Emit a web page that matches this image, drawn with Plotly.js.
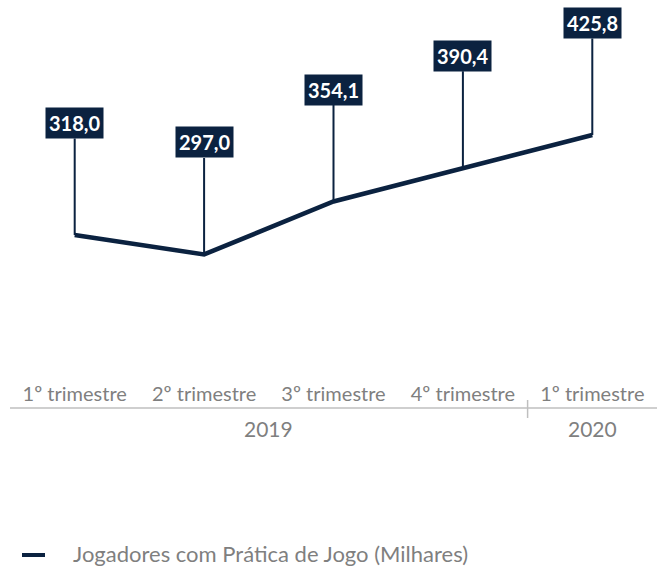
<!DOCTYPE html>
<html>
<head>
<meta charset="utf-8">
<script src="https://cdn.plot.ly/plotly-3.0.1.min.js"></script>
<style>html,body{margin:0;padding:0;background:#fff}#chart{width:657px;height:566px}</style>
</head>
<body>
<div id="chart"></div>
<script>
const quarters = ["1º trimestre", "2º trimestre", "3º trimestre", "4º trimestre", "1º trimestre"];
const years = ["2019", "2019", "2019", "2019", "2020"];
const values = [318.0, 297.0, 354.1, 390.4, 425.8];
const seriesName = "Jogadores com Prática de Jogo (Milhares)";

const W = 657, H = 566;
const navy = "#0b2240";
const gray = "#7f7f7f";
const idx = quarters.map((_, i) => i);
const px = v => v / W;
const py = v => 1 - v / H;

const fmt = v => v.toFixed(1).replace(".", ",");

// year groups
const groups = [];
years.forEach((y, i) => {
  const g = groups[groups.length - 1];
  if (g && g.year === y) g.end = i; else groups.push({year: y, start: i, end: i});
});

const annotations = values.map((v, i) => ({
  x: i, y: v, xref: "x", yref: "y",
  text: "<b>" + fmt(v) + "</b>",
  showarrow: true, arrowhead: 0, arrowwidth: 2, arrowcolor: navy,
  ax: 0, ay: -112,
  bgcolor: navy, borderpad: 3,
  font: {family: "Lato", size: 20, color: "#ffffff"}
}));
groups.forEach(g => annotations.push({
  x: (g.start + g.end) / 2, xref: "x", y: py(428), yref: "paper", yanchor: "middle",
  text: g.year, showarrow: false,
  font: {family: "Lato", size: 21, color: gray}
}));
annotations.push({
  x: px(71), xref: "paper", y: py(553), yref: "paper", xanchor: "left", yanchor: "middle",
  text: seriesName, showarrow: false,
  font: {family: "Lato", size: 22, color: gray}
});

const shapes = [
  {type: "line", xref: "paper", yref: "paper", x0: px(10), x1: 1, y0: py(408), y1: py(408),
   line: {color: "#bfbfbf", width: 1.5}},
  {type: "line", xref: "paper", yref: "paper", x0: px(22), x1: px(45), y0: py(555), y1: py(555),
   line: {color: navy, width: 4}}
];
for (let k = 1; k < groups.length; k++) {
  const xb = groups[k].start - 0.5;
  shapes.push({type: "line", xref: "x", yref: "paper", x0: xb, x1: xb, y0: py(400), y1: py(418),
    line: {color: "#bfbfbf", width: 1.5}});
}

const trace = {
  x: idx, y: values, type: "scatter", mode: "lines", name: seriesName,
  line: {color: navy, width: 4.5}, showlegend: false, hoverinfo: "skip"
};

const layout = {
  width: W, height: H,
  margin: {l: 0, r: 0, t: 0, b: 0},
  paper_bgcolor: "#ffffff", plot_bgcolor: "#ffffff",
  xaxis: {
    domain: [10 / W, 1], range: [-0.5, quarters.length - 0.5],
    tickvals: idx, ticktext: quarters, ticks: "", showline: false,
    showgrid: false, zeroline: false,
    tickfont: {family: "Lato", size: 20, color: gray}
  },
  yaxis: {
    domain: [1 - 380 / H, 1], range: [161.6, 571.4],
    showgrid: false, zeroline: false, showticklabels: false, showline: false
  },
  annotations: annotations,
  shapes: shapes,
  showlegend: false
};

Plotly.newPlot("chart", [trace], layout, {displayModeBar: false, staticPlot: true});
</script>
</body>
</html>
